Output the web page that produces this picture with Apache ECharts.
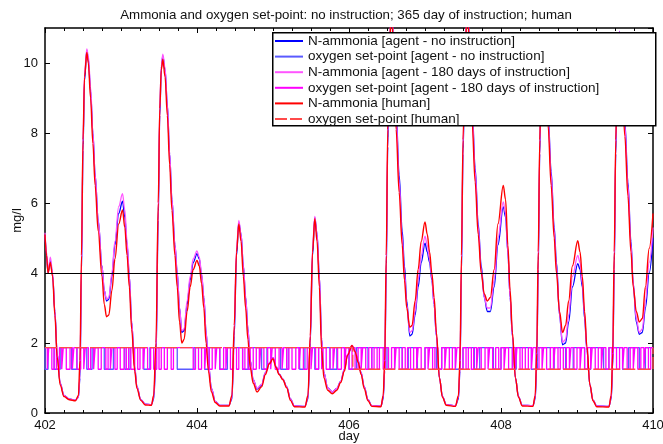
<!DOCTYPE html>
<html><head><meta charset="utf-8">
<script src="https://cdn.jsdelivr.net/npm/echarts@6/dist/echarts.min.js"></script>
<style>html,body{margin:0;padding:0;background:#fff}#c{width:663px;height:444px}</style>
</head><body><div id="c"></div>
<script>
// ---- data ----
const days = [402.00,402.02,402.04,402.07,402.10,402.13,402.16,402.20,402.25,402.32,402.40,402.44,402.46,402.48,402.50,402.52,402.55,402.57,402.60,402.63,402.66,402.70,402.75,402.78,402.81,402.84,402.88,402.92,402.97,403.02,403.05,403.08,403.11,403.14,403.18,403.21,403.26,403.32,403.40,403.43,403.46,403.49,403.51,403.53,403.55,403.58,403.61,403.64,403.67,403.71,403.74,403.77,403.80,403.83,403.87,403.91,403.95,404.00,404.03,404.06,404.09,404.12,404.15,404.19,404.24,404.30,404.42,404.46,404.49,404.52,404.55,404.58,404.61,404.64,404.67,404.70,404.74,404.79,404.85,404.90,404.95,405.00,405.04,405.08,405.13,405.18,405.23,405.28,405.42,405.46,405.49,405.52,405.55,405.58,405.61,405.64,405.67,405.72,405.78,405.84,405.89,405.94,405.98,406.04,406.08,406.12,406.16,406.20,406.25,406.30,406.42,406.45,406.47,406.49,406.51,406.53,406.56,406.59,406.62,406.66,406.70,406.73,406.76,406.80,406.83,406.87,406.91,406.95,407.00,407.03,407.06,407.09,407.12,407.15,407.19,407.23,407.28,407.40,407.44,407.46,407.48,407.50,407.53,407.56,407.59,407.62,407.66,407.70,407.74,407.78,407.82,407.86,407.91,407.96,408.03,408.06,408.09,408.12,408.15,408.19,408.23,408.28,408.42,408.45,408.47,408.49,408.51,408.53,408.56,408.59,408.62,408.66,408.70,408.73,408.77,408.81,408.85,408.89,408.94,409.01,409.04,409.07,409.10,409.13,409.17,409.21,409.26,409.42,409.45,409.47,409.49,409.51,409.53,409.56,409.59,409.63,409.67,409.71,409.74,409.78,409.82,409.86,409.90,409.95,410.00];
const nhHuman = [5.1,4.5,4.0,4.3,3.9,2.8,1.6,0.8,0.47,0.38,0.35,0.5,1.5,4.5,7.8,9.6,10.3,10.0,9.0,7.7,6.5,5.2,3.9,3.1,2.75,2.8,3.5,4.4,5.4,5.8,5.3,4.5,3.6,2.4,1.2,0.7,0.36,0.23,0.22,0.5,2.0,6.0,8.7,9.8,10.1,9.6,8.5,7.1,5.8,4.5,3.6,2.6,2.0,2.1,2.9,3.6,4.1,4.36,4.2,3.7,3.0,2.0,1.2,0.6,0.3,0.2,0.2,0.5,2.5,4.6,5.4,4.9,3.9,3.0,2.1,1.3,0.85,0.6,0.75,1.1,1.4,1.55,1.3,1.1,0.95,0.72,0.36,0.18,0.17,0.5,2.2,4.6,5.55,4.9,3.6,1.8,1.0,0.65,0.55,0.65,0.87,1.2,1.65,1.93,1.75,1.45,1.1,0.7,0.35,0.19,0.18,0.5,1.5,4.5,8.1,10.4,11.6,10.0,8.1,6.3,4.8,3.8,3.0,2.45,2.5,3.2,4.1,4.9,5.46,5.1,4.6,4.0,3.3,2.3,1.0,0.45,0.22,0.19,0.5,1.5,4.5,7.8,10.6,11.6,10.0,8.3,6.6,5.1,4.0,3.4,3.2,3.3,4.1,5.4,6.5,6.1,4.8,3.5,2.3,1.0,0.45,0.2,0.19,0.5,1.7,4.6,7.8,9.8,10.7,9.6,8.2,6.5,5.0,4.0,2.9,2.3,2.5,3.2,4.2,4.92,4.6,3.9,2.9,1.9,0.8,0.35,0.18,0.17,0.5,1.7,4.6,7.8,9.8,10.8,9.6,7.9,6.2,4.6,3.6,2.9,2.6,2.7,3.6,4.7,5.7];
const nhAgentNoInstr = [5.1,4.5,4.0,4.35,3.95,2.9,1.7,0.85,0.5,0.4,0.37,0.45,1.0,4.0,7.5,9.5,10.35,10.1,9.2,8.0,6.8,5.5,4.2,3.5,3.2,3.25,3.9,4.8,5.7,6.05,5.6,4.8,3.9,2.6,1.3,0.75,0.38,0.25,0.24,0.4,1.5,5.5,8.5,9.85,10.2,9.8,8.8,7.4,6.1,4.8,4.0,3.0,2.3,2.35,3.1,3.8,4.3,4.55,4.4,3.95,3.3,2.3,1.4,0.7,0.33,0.22,0.22,0.4,2.2,4.5,5.45,5.1,4.2,3.3,2.4,1.5,0.95,0.68,0.8,1.15,1.42,1.58,1.33,1.12,0.97,0.75,0.4,0.2,0.19,0.4,2.0,4.5,5.58,5.1,3.9,2.1,1.15,0.72,0.6,0.7,0.9,1.25,1.65,1.92,1.78,1.5,1.15,0.75,0.38,0.21,0.2,0.4,1.2,4.0,7.6,10.2,11.7,10.4,8.6,6.8,5.2,4.2,3.2,2.2,2.25,2.8,3.6,4.3,4.85,4.6,4.3,3.8,3.1,2.2,1.0,0.47,0.24,0.21,0.4,1.2,4.0,7.4,10.4,11.7,10.4,8.7,7.0,5.4,4.2,3.3,2.9,2.9,3.6,4.8,5.89,5.6,4.6,3.3,2.2,1.0,0.47,0.22,0.21,0.4,1.3,4.1,7.4,9.6,10.8,9.9,8.5,6.9,5.3,4.3,2.8,1.95,2.0,2.6,3.6,4.27,4.1,3.6,2.7,1.8,0.8,0.37,0.2,0.19,0.4,1.3,4.1,7.4,9.6,10.9,9.9,8.3,6.6,4.9,3.7,2.6,2.25,2.3,3.0,4.0,5.0];
const nhAgent180 = [5.15,4.6,4.05,4.45,4.0,2.9,1.7,0.85,0.5,0.4,0.37,0.45,1.1,4.2,7.7,9.7,10.4,10.2,9.3,8.0,6.8,5.5,4.2,3.5,3.25,3.3,4.0,4.9,5.9,6.27,5.8,4.9,3.9,2.6,1.3,0.75,0.38,0.25,0.24,0.45,1.7,5.8,8.7,9.9,10.25,9.85,8.8,7.4,6.1,4.8,4.0,3.0,2.35,2.4,3.2,3.9,4.4,4.63,4.45,4.0,3.3,2.3,1.4,0.7,0.33,0.22,0.22,0.45,2.4,4.7,5.5,5.1,4.2,3.3,2.4,1.5,0.95,0.7,0.82,1.15,1.42,1.58,1.33,1.12,0.97,0.75,0.4,0.2,0.19,0.45,2.1,4.7,5.62,5.1,3.9,2.1,1.15,0.72,0.6,0.7,0.9,1.25,1.68,1.93,1.78,1.5,1.15,0.75,0.38,0.21,0.2,0.45,1.3,4.3,7.9,10.4,11.7,10.4,8.5,6.6,5.0,4.0,3.1,2.3,2.35,2.9,3.8,4.5,5.05,4.8,4.4,3.85,3.1,2.2,1.0,0.47,0.24,0.21,0.45,1.3,4.3,7.6,10.5,11.7,10.3,8.6,6.9,5.3,4.1,3.3,3.0,3.0,3.8,5.0,6.03,5.7,4.6,3.3,2.2,1.0,0.47,0.22,0.21,0.45,1.5,4.4,7.6,9.7,10.8,9.8,8.4,6.8,5.2,4.2,2.8,2.02,2.1,2.8,3.9,4.5,4.3,3.7,2.8,1.8,0.8,0.37,0.2,0.19,0.45,1.5,4.4,7.6,9.7,10.9,9.8,8.2,6.5,4.8,3.7,2.7,2.3,2.4,3.2,4.3,5.3];
// oxygen set-point levels (mg/l) and the intervals spent at the low level
const spLow = 1.25, spHigh = 1.87;
const spAgentNoInstrLow = [[402.0,402.04],[402.12,402.2],[402.35,402.42],[402.55,402.62],[402.78,402.9],[403.05,403.12],[403.3,403.38],[403.74,403.96],[404.1,404.16],[404.3,404.4],[404.6,404.68],[404.85,404.92],[405.1,405.2],[405.35,405.42],[405.55,405.6],[405.75,405.84],[406.0,406.1],[406.25,406.3],[406.5,406.6],[406.7,406.78],[406.9,407.0],[407.15,407.22],[407.4,407.5],[407.65,407.72],[407.9,408.0],[408.15,408.2],[408.4,408.48],[408.65,408.7],[408.85,408.95],[409.1,409.18],[409.35,409.42],[409.6,409.68],[409.82,409.9]];
const spAgent180Low = [[402.03,402.05],[402.09,402.12],[402.15,402.19],[402.22,402.24],[402.28,402.33],[402.36,402.38],[402.42,402.47],[402.51,402.53],[402.57,402.60],[402.64,402.66],[402.70,402.74],[402.80,402.83],[402.86,402.88],[402.92,402.95],[402.99,403.04],[403.07,403.10],[403.13,403.18],[403.22,403.25],[403.29,403.31],[403.35,403.39],[403.43,403.47],[403.50,403.53],[403.57,403.61],[403.66,403.69],[403.95,403.98],[404.02,404.06],[404.1,404.12],[404.16,404.2],[404.24,404.26],[404.3,404.35],[404.38,404.4],[404.44,404.48],[404.52,404.55],[404.6,404.63],[404.67,404.7],[404.74,404.78],[404.82,404.84],[404.88,404.93],[404.97,404.99],[405.03,405.08],[405.12,405.14],[405.18,405.21],[405.25,405.3],[405.34,405.36],[405.4,405.45],[405.5,405.52],[405.56,405.6],[405.64,405.66],[405.7,405.75],[405.79,405.81],[405.85,405.9],[405.94,405.96],[406.0,406.04],[406.08,406.12],[406.16,406.18],[406.22,406.26],[406.3,406.33],[406.37,406.4],[406.45,406.48],[406.52,406.56],[406.6,406.62],[406.66,406.7],[406.74,406.77],[406.81,406.85],[406.89,406.91],[406.95,407.0],[407.04,407.06],[407.1,407.13],[407.17,407.22],[407.26,407.28],[407.32,407.36],[407.4,407.42],[407.46,407.5],[407.54,407.57],[407.61,407.64],[407.68,407.7],[407.74,407.79],[407.83,407.85],[407.89,407.93],[407.97,408.0],[408.04,408.06],[408.1,408.15],[408.19,408.21],[408.25,408.28],[408.32,408.36],[408.4,408.42],[408.46,408.5],[408.54,408.56],[408.6,408.65],[408.69,408.71],[408.75,408.78],[408.82,408.86],[408.9,408.92],[408.96,409.0],[409.04,409.06],[409.1,409.14],[409.18,409.2],[409.24,409.28],[409.32,409.34],[409.38,409.42],[409.46,409.48],[409.52,409.56],[409.6,409.62],[409.66,409.7],[409.74,409.76],[409.8,409.84],[409.88,409.9],[409.94,409.97]];
const spHumanLow = [[406.05,410.0]];
const limitLine = 4;
const xTicks = [402,404,406,408,410];
const names = ['N-ammonia [agent - no instruction]','oxygen set-point [agent - no instruction]','N-ammonia [agent - 180 days of instruction]','oxygen set-point [agent - 180 days of instruction]','N-ammonia [human]','oxygen set-point [human]'];

// ---- build ----
function pairs(xs, ys){ return xs.map((x,i)=>[x, ys[i]]); }
function steps(lows){
  const pts = [[xTicks[0], spHigh]];
  lows.forEach(([a,b])=>{ pts.push([a,spHigh],[a,spLow],[b,spLow],[b,spHigh]); });
  pts.push([xTicks[xTicks.length-1], spHigh]);
  return pts;
}
const FONT = 'Liberation Sans, Arial, Helvetica, sans-serif';
const chart = echarts.init(document.getElementById('c'), null, {renderer:'canvas'});
const axisCommon = {
  min: 402, max: 410, interval: 2,
  axisLine:{show:true, onZero:false, lineStyle:{color:'#000', width:1.5}},
  axisTick:{show:true, inside:true, length:5, lineStyle:{color:'#000'}},
  minorTick:{show:true, splitNumber:8, length:3, lineStyle:{color:'#000'}},
  splitLine:{show:false}
};
const yCommon = {
  min: 0, max: 11, interval: 2,
  axisLine:{show:true, onZero:false, lineStyle:{color:'#000', width:1.5}},
  axisTick:{show:true, inside:true, length:5, lineStyle:{color:'#000'}},
  splitLine:{show:false}
};
const nh = {type:'line', showSymbol:false, symbol:'none', smooth:0.35, smoothMonotone:'x', clip:true, animation:false};
const sp = {type:'line', showSymbol:false, symbol:'none', clip:true, animation:false};
chart.setOption({
  animation:false,
  backgroundColor:'#fff',
  textStyle:{fontFamily:FONT},
  title:{text:'Ammonia and oxygen set-point: no instruction; 365 day of instruction; human', left:341, textAlign:'center', top:4,
    textStyle:{fontSize:13.3, fontWeight:'normal', color:'#111', fontFamily:FONT}},
  grid:{left:45, right:10, top:28, bottom:31, containLabel:false, outerBoundsMode:'none'},
  xAxis:[
    Object.assign({type:'value', position:'bottom', name:'day', nameLocation:'middle', nameGap:17, nameMoveOverlap:false,
      nameTextStyle:{fontSize:13, color:'#111', fontFamily:FONT},
      axisLabel:{fontSize:13, color:'#111', margin:6, fontFamily:FONT}}, axisCommon),
    Object.assign({type:'value', position:'top', axisLabel:{show:false}}, axisCommon)
  ],
  yAxis:[
    Object.assign({type:'value', position:'left', name:'mg/l', nameLocation:'middle', nameGap:21, nameMoveOverlap:false,
      nameTextStyle:{fontSize:13, color:'#111', fontFamily:FONT},
      axisLabel:{fontSize:13, color:'#111', margin:7, fontFamily:FONT, showMaxLabel:false}}, yCommon),
    Object.assign({type:'value', position:'right', axisLabel:{show:false}}, yCommon)
  ],
  graphic:[{type:'rect', left:272, top:32, shape:{width:383, height:93}, z:50,
    style:{fill:'#fff', stroke:'#000', lineWidth:1.5}}],
  legend:{orient:'vertical', left:274, top:34, z:60, itemWidth:28, itemHeight:12, itemGap:1.6, padding:0,
    itemStyle:{opacity:0},
    textStyle:{fontSize:13.5, lineHeight:14, color:'#111', fontFamily:FONT, padding:[0,0,0,0]},
    data:names.map(n=>({name:n}))},
  series:[
    Object.assign({}, nh, {name:names[0], data:pairs(days, nhAgentNoInstr), lineStyle:{color:'#0000ff', width:1.3}, itemStyle:{color:'#0000ff'}, z:2}),
    Object.assign({}, sp, {name:names[1], data:steps(spAgentNoInstrLow), lineStyle:{color:'#5a5aff', width:1.3}, itemStyle:{color:'#5a5aff'}, z:2}),
    Object.assign({}, nh, {name:names[2], data:pairs(days, nhAgent180), lineStyle:{color:'#ff55ff', width:1.3}, itemStyle:{color:'#ff55ff'}, z:3}),
    Object.assign({}, sp, {name:names[3], data:steps(spAgent180Low), lineStyle:{color:'#ff00ff', width:1.3}, itemStyle:{color:'#ff00ff'}, z:3}),
    Object.assign({}, nh, {name:names[4], data:pairs(days, nhHuman), lineStyle:{color:'#ff0000', width:1.4}, itemStyle:{color:'#ff0000'}, z:4}),
    Object.assign({}, sp, {name:names[5], data:steps(spHumanLow), lineStyle:{color:'#ff4a4a', width:1.3, type:[12,3]}, itemStyle:{color:'#ff4a4a'}, z:4,
      markLine:{silent:true, symbol:'none', animation:false, label:{show:false},
        lineStyle:{color:'#000', width:1.2, type:'solid'}, data:[{yAxis:limitLine}]}})
  ]
});
</script></body></html>
